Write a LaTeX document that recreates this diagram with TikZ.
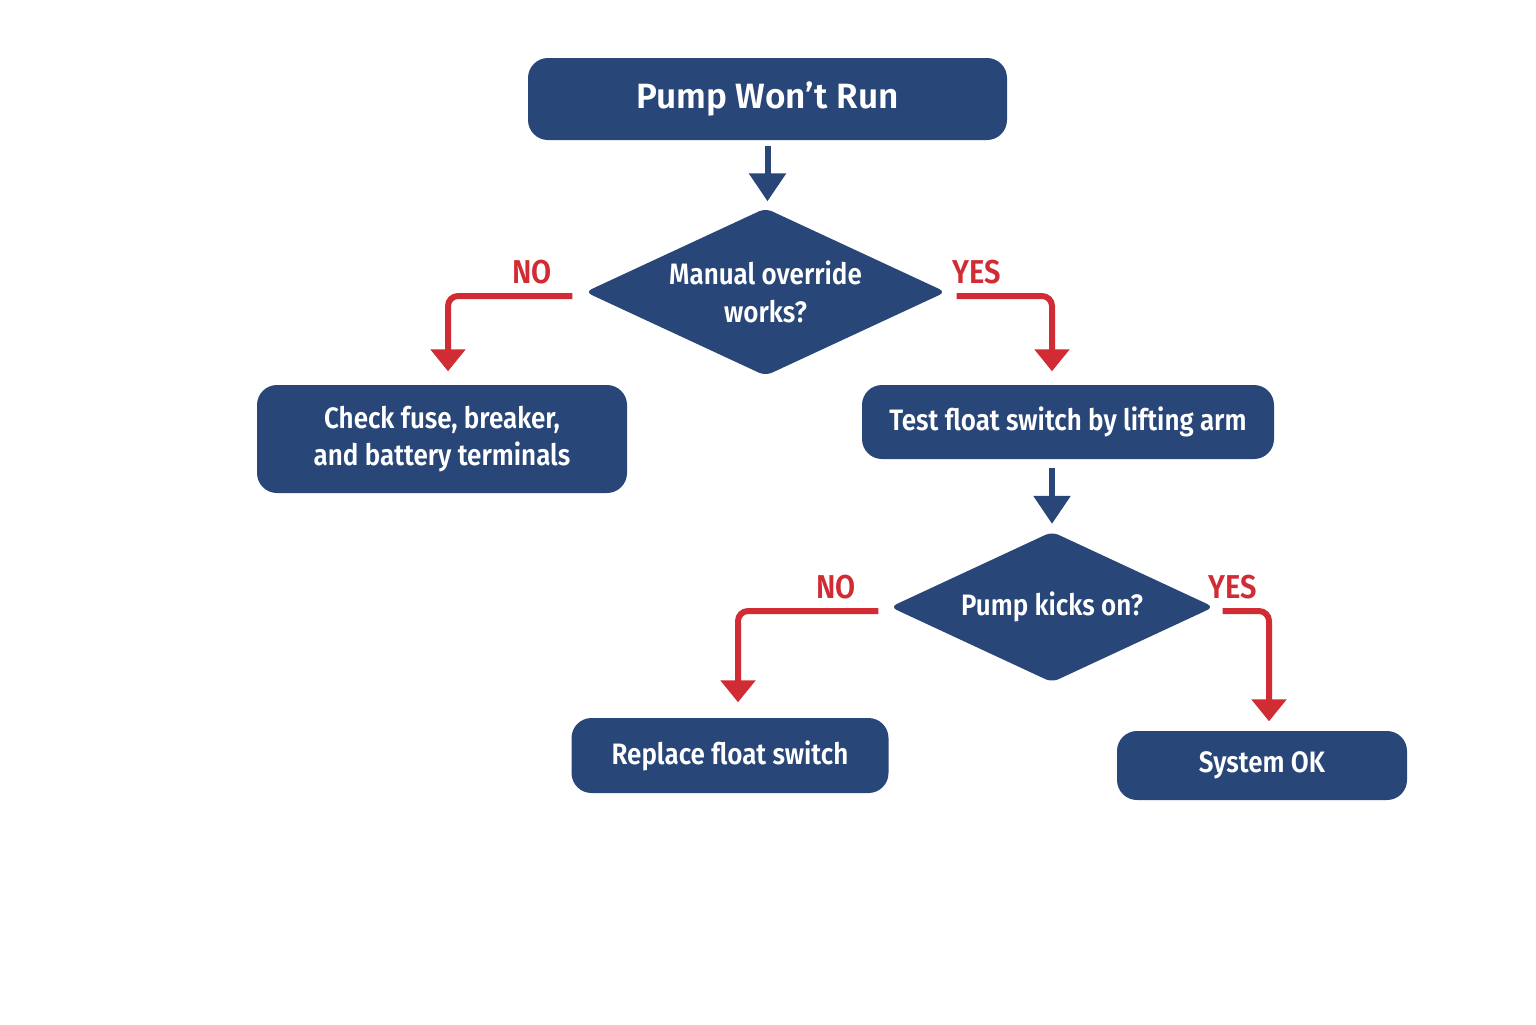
\documentclass[tikz,border=0pt]{standalone}
\usepackage{fontspec}
\setmainfont{Fira Sans}[BoldFont={Fira Sans SemiBold}]
\newfontfamily\narrowsb{Fira Sans SemiBold}[FakeStretch=0.88]
\usetikzlibrary{shapes.geometric,arrows.meta,calc}
\definecolor{navy}{RGB}{41,70,120}
\definecolor{alertred}{RGB}{209,43,51}
\begin{document}
\begin{tikzpicture}
\tikzstyle{every node}+=[inner sep=0pt, font=\narrowsb]
\tikzstyle{stepbox}=[fill=navy, text=white, rounded corners=0.2cm, align=center, font=\narrowsb\fontsize{8.4}{10.6}\selectfont]
\tikzstyle{query}=[diamond, fill=navy, text=white, rounded corners=2pt, aspect=2.2, align=center, font=\narrowsb\fontsize{8.4}{10.8}\selectfont]
\tikzstyle{answer}=[text=alertred, font=\narrowsb\fontsize{9.4}{11}\selectfont]
\tikzstyle{flow}=[navy, line width=0.06cm, -{Triangle[width=0.36cm,length=0.28cm]}]
\tikzstyle{branch}=[alertred, line width=0.06cm, rounded corners=0.1cm, -{Triangle[width=0.34cm,length=0.22cm]}]
\useasboundingbox (0,0) rectangle (15.36,-10.24);
% boxes and questions
\node [stepbox, minimum width=4.79cm, minimum height=0.82cm, font=\bfseries\fontsize{10}{12}\selectfont] (start) at (7.675,-0.99) {Pump Won't Run};
\node [query, minimum width=3.61cm, minimum height=1.68cm] (manual) at (7.655,-2.92) {Manual override\\works?};
\node [stepbox, minimum width=3.70cm, minimum height=1.08cm] (fuse) at (4.42,-4.39) {Check fuse, breaker,\\and battery terminals};
\node [stepbox, minimum width=4.12cm, minimum height=0.74cm] (test) at (10.68,-4.22) {Test float switch by lifting arm};
\node [query, minimum width=3.24cm, minimum height=1.51cm] (kicks) at (10.52,-6.07) {Pump kicks on?};
\node [stepbox, minimum width=3.17cm, minimum height=0.75cm] (replace) at (7.30,-7.555) {Replace float switch};
\node [stepbox, minimum width=2.90cm, minimum height=0.69cm] (ok) at (12.62,-7.655) {System OK};
% answers
\node [answer] (no1) at (5.32,-2.72) {NO};
\node [answer] (yes1) at (9.77,-2.72) {YES};
\node [answer] (no2) at (8.36,-5.87) {NO};
\node [answer] (yes2) at (12.33,-5.87) {YES};
% connectors
\draw [flow, shorten <=0.05cm, shorten >=0.06cm] (start.south) -- (manual.north -| start.south);
\draw [flow, shorten <=0.08cm, shorten >=0.07cm] (test.south -| kicks.north) -- (kicks.north);
\draw [branch, shorten >=0.13cm] ($(manual.west)+(-0.12,-0.04)$) -| ($(fuse.north)+(0.06,0)$);
\draw [branch, shorten >=0.13cm] ($(manual.east)+(0.10,-0.04)$) -| ($(test.north)+(-0.16,0)$);
\draw [branch, shorten >=0.15cm] ($(kicks.west)+(-0.11,-0.04)$) -| ($(replace.north)+(0.08,0)$);
\draw [branch, shorten >=0.09cm] ($(kicks.east)+(0.08,-0.04)$) -| ($(ok.north)+(0.07,0)$);
\end{tikzpicture}
\end{document}
